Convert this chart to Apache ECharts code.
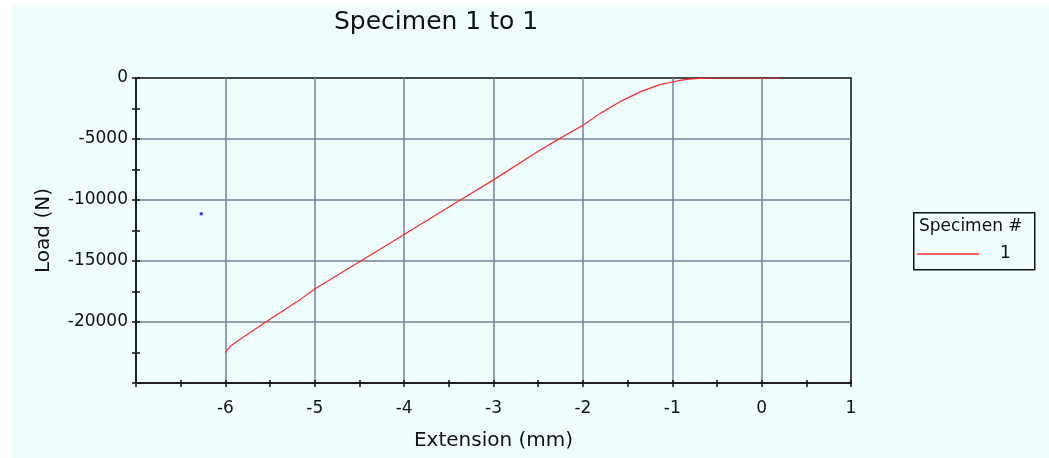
<!DOCTYPE html>
<html>
<head>
<meta charset="utf-8">
<script src="https://cdn.jsdelivr.net/npm/echarts@6/dist/echarts.min.js"></script>
<style>
  html, body { margin: 0; padding: 0; background: #ffffff; }
  #bg { position: absolute; left: 12px; top: 5px; width: 1037px; height: 453px; background: #f1fefe; }
  #chart { position: absolute; left: 0; top: 0; width: 1049px; height: 458px; }
</style>
</head>
<body>
<div id="bg"></div>
<div id="chart"></div>
<script>
// ---- data ----
const titleText = 'Specimen 1 to 1';
const xName = 'Extension (mm)';
const yName = 'Load (N)';
const legendTitle = 'Specimen #';
const seriesName = '1';

const extension = [-6.0, -5.97, -5.93, -5.86, -5.71, -5.54, -5.2, -5.0, -4.5, -4.0, -3.5, -3.0, -2.5, -2.28, -2.0, -1.81, -1.59, -1.36, -1.14, -1.0, -0.9, -0.81, -0.7, -0.6, -0.5, 0.0, 0.2];
const load = [-22520, -22200, -21900, -21540, -20800, -19950, -18350, -17300, -15060, -12820, -10580, -8350, -6000, -5050, -3870, -2920, -1960, -1140, -540, -330, -180, -100, -30, -5, 0, 0, 0];

const strayPoint = [[-6.27, -11130]];

const xTicks = { min: -7, max: 1, step: 1 };
const yTicks = { min: -25000, max: 0, step: 5000 };

// ---- chart ----
const chart = echarts.init(document.getElementById('chart'), null, { renderer: 'canvas' });
const FONT = 'DejaVu Sans';
const gridColor = '#76829a';

const curve = extension.map((x, i) => [x, load[i]]);

const option = {
  backgroundColor: 'transparent',
  animation: false,
  textStyle: { fontFamily: FONT },
  title: {
    text: titleText,
    left: 329, top: 5,
    textStyle: { fontFamily: FONT, fontSize: 25, fontWeight: 'normal', color: '#111' }
  },
  grid: {
    left: 136, top: 78, right: 198, bottom: 75,
    show: true, borderColor: '#111', borderWidth: 1.5, backgroundColor: 'transparent'
  },
  legend: {
    data: [seriesName],
    left: 917, top: 245,
    padding: 0,
    icon: 'rect', itemWidth: 62, itemHeight: 1.5,
    textStyle: { fontFamily: FONT, fontSize: 17, color: '#111', padding: [0, 0, 0, 16], lineHeight: 18 }
  },
  graphic: [
    { type: 'rect', left: 913, top: 212, shape: { width: 121, height: 57 },
      style: { fill: 'transparent', stroke: '#111', lineWidth: 1.5 }, z: 10 },
    { type: 'text', left: 919, top: 218,
      style: { text: legendTitle, font: '17px "DejaVu Sans"', fill: '#111' }, z: 10 }
  ],
  xAxis: [{
    type: 'value', min: xTicks.min, max: xTicks.max, interval: xTicks.step,
    position: 'bottom',
    name: xName, nameLocation: 'middle', nameGap: 48,
    nameTextStyle: { fontFamily: FONT, fontSize: 20, color: '#111' },
    axisLine: { show: true, onZero: false, lineStyle: { color: '#111', width: 1.5 } },
    axisTick: { show: true, inside: false, length: 4, lineStyle: { color: '#111', width: 1.5 } },
    minorTick: { show: true, splitNumber: 2, length: 4, lineStyle: { color: '#111', width: 1.5 } },
    axisLabel: {
      margin: 17, fontFamily: FONT, fontSize: 17, color: '#111',
      formatter: v => (v === xTicks.min ? '' : String(v))
    },
    splitLine: { show: true, showMinLine: false, showMaxLine: false, lineStyle: { color: gridColor, width: 1.5 } }
  }, {
    type: 'value', min: xTicks.min, max: xTicks.max, interval: xTicks.step,
    position: 'bottom', offset: 0,
    axisLine: { show: false, onZero: false },
    axisTick: { show: true, inside: true, length: 3, lineStyle: { color: '#111', width: 1.5 } },
    minorTick: { show: true, splitNumber: 2, length: 3, lineStyle: { color: '#111', width: 1.5 } },
    axisLabel: { show: false },
    splitLine: { show: false }
  }],
  yAxis: [{
    type: 'value', min: yTicks.min, max: yTicks.max, interval: yTicks.step,
    position: 'left',
    name: yName, nameLocation: 'middle', nameGap: 82,
    nameTextStyle: { fontFamily: FONT, fontSize: 20, color: '#111' },
    axisLine: { show: true, onZero: false, lineStyle: { color: '#111', width: 1.5 } },
    axisTick: { show: true, inside: false, length: 4, lineStyle: { color: '#111', width: 1.5 } },
    minorTick: { show: true, splitNumber: 2, length: 4, lineStyle: { color: '#111', width: 1.5 } },
    axisLabel: {
      margin: 8, fontFamily: FONT, fontSize: 17, color: '#111',
      formatter: v => (v === yTicks.min ? '' : String(v))
    },
    splitLine: { show: true, showMinLine: false, showMaxLine: false, lineStyle: { color: gridColor, width: 1.5 } }
  }, {
    type: 'value', min: yTicks.min, max: yTicks.max, interval: yTicks.step,
    position: 'left', offset: 0,
    axisLine: { show: false, onZero: false },
    axisTick: { show: true, inside: true, length: 4, lineStyle: { color: '#111', width: 1.5 } },
    minorTick: { show: true, splitNumber: 2, length: 4, lineStyle: { color: '#111', width: 1.5 } },
    axisLabel: { show: false },
    splitLine: { show: false }
  }],
  series: [{
    name: seriesName,
    type: 'line',
    data: curve,
    showSymbol: false,
    symbol: 'none',
    lineStyle: { color: '#ff2a2a', width: 1.2 },
    itemStyle: { color: '#ff2a2a' },
    z: 5
  }, {
    name: 'stray',
    type: 'scatter',
    data: strayPoint,
    symbol: 'rect',
    symbolSize: 3,
    itemStyle: { color: '#0000ff' },
    z: 6
  }]
};
chart.setOption(option);
</script>
</body>
</html>
